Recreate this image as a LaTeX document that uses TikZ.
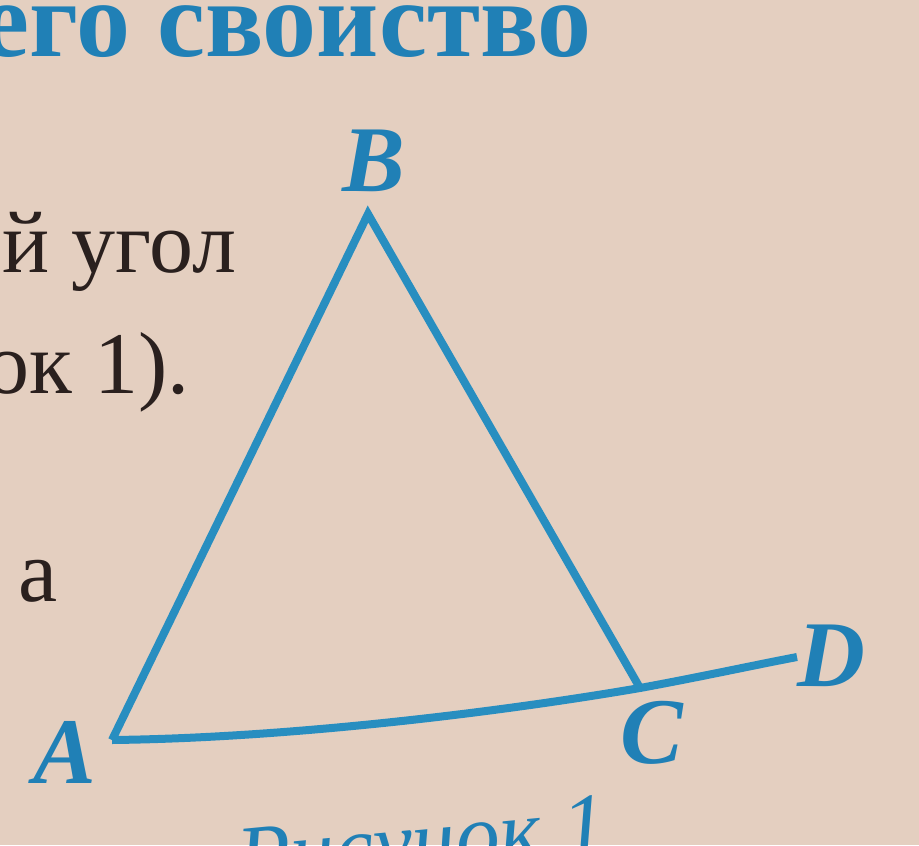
\documentclass[tikz,border=0pt]{standalone}
\usepackage{fontspec}
\setmainfont{Liberation Serif}
\definecolor{paper}{RGB}{228,207,192}
\definecolor{figblue}{RGB}{40,142,192}
\definecolor{inkblue}{RGB}{32,128,182}
\definecolor{ink}{RGB}{42,32,30}

\begin{document}
\begin{tikzpicture}[x=0.5pt,y=-0.5pt,
	side/.style={figblue,line width=4pt,line join=miter},
	vlabel/.style={inkblue,inner sep=0pt,font=\fontsize{47}{47}\selectfont\bfseries\itshape},
	body/.style={ink,inner sep=0pt,font=\fontsize{44}{44}\selectfont}]
	\fill[paper] (0,0) rectangle (919,845);
	\useasboundingbox (0,0) rectangle (919,845);
	\clip (0,0) rectangle (919,845);
	
	% page text
	\node[inkblue,inner sep=0pt,anchor=base east,font=\fontsize{54}{54}\selectfont\bfseries] (head) at (592,57) {его свойство};
	\node[body,anchor=base east] (line1) at (237,272) {й угол};
	\node[body,anchor=base east] (line2) at (190,393) {ок 1).};
	\node[body,anchor=base west] (line3) at (18,601) {а};
	\node[inkblue,inner sep=0pt,anchor=base west,rotate=5.5,font=\fontsize{44}{44}\selectfont\itshape] (caption) at (240,888) {Рисунок 1};
	
	% vertices
	\coordinate (A) at (112,740);
	\coordinate (B) at (368,214);
	\coordinate (C) at (640,688);
	\coordinate (D) at (797,657);
	
	\draw[side] (C)--(B)--(A);
	\draw[side] (A) .. controls (290,738) and (500,712) .. (C)
		.. controls (700,677) and (750,666) .. (D);
	
	% labels
	\node[vlabel] (labA) at (65,752) {A};
	\node[vlabel] (labB) at (374,161) {B};
	\node[vlabel] (labC) at (652,733) {C};
	\node[vlabel] (labD) at (831,656) {D};
\end{tikzpicture}
\end{document}
